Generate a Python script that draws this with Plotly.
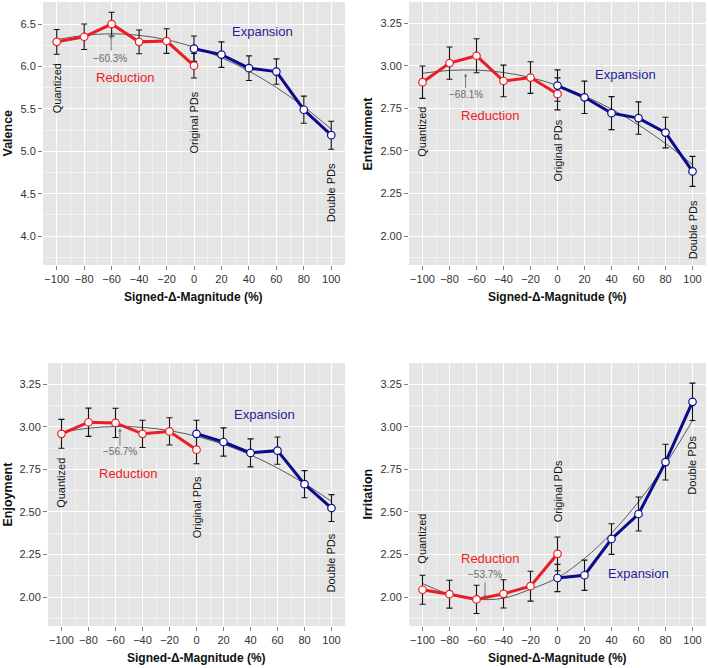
import plotly.graph_objects as go

W, H = 708, 668

# ---------------- data ----------------
x_red = [-100, -80, -60, -40, -20, 0]
x_blue = [0, 20, 40, 60, 80, 100]
x_fit = [-100, -80, -60, -40, -20, 0, 20, 40, 60, 80, 100]
x_ticks = [-100, -80, -60, -40, -20, 0, 20, 40, 60, 80, 100]

valence_red = [6.29, 6.35, 6.50, 6.29, 6.30, 6.01]
valence_red_err = [0.145, 0.15, 0.14, 0.14, 0.145, 0.145]
valence_blue = [6.21, 6.14, 5.98, 5.94, 5.49, 5.19]
valence_blue_err = [0.15, 0.15, 0.145, 0.15, 0.16, 0.165]
valence_fit = [6.315, 6.367, 6.385, 6.367, 6.315, 6.227, 6.104, 5.946, 5.753, 5.525, 5.261]

entrain_red = [2.904, 3.016, 3.059, 2.911, 2.931, 2.835]
entrain_red_err = [0.095, 0.095, 0.10, 0.093, 0.093, 0.094]
entrain_blue = [2.884, 2.815, 2.722, 2.693, 2.608, 2.38]
entrain_blue_err = [0.092, 0.095, 0.097, 0.095, 0.09, 0.088]
entrain_fit = [2.956, 2.973, 2.975, 2.961, 2.931, 2.885, 2.823, 2.746, 2.653, 2.544, 2.420]

enjoy_red = [2.959, 3.027, 3.023, 2.959, 2.973, 2.866]
enjoy_red_err = [0.085, 0.083, 0.086, 0.08, 0.08, 0.083]
enjoy_blue = [2.959, 2.911, 2.847, 2.860, 2.663, 2.523]
enjoy_blue_err = [0.08, 0.083, 0.082, 0.08, 0.08, 0.079]
enjoy_fit = [2.968, 2.992, 3.002, 2.997, 2.978, 2.944, 2.897, 2.835, 2.758, 2.667, 2.562]

irrit_red = [2.043, 2.017, 1.986, 2.019, 2.064, 2.254]
irrit_red_err = [0.085, 0.082, 0.083, 0.083, 0.088, 0.099]
irrit_blue = [2.112, 2.128, 2.341, 2.488, 2.793, 3.147]
irrit_blue_err = [0.08, 0.089, 0.09, 0.10, 0.105, 0.11]
irrit_fit = [2.080, 2.016, 1.987, 1.993, 2.046, 2.113, 2.227, 2.376, 2.560, 2.780, 3.036]

panel_titles = ["Valence", "Entrainment", "Enjoyment", "Irritation"]
x_title = "Signed-\u0394-Magnitude (%)"
peak_labels = ["\u221260.3%", "\u221268.1%", "\u221256.7%", "\u221253.7%"]

# ---------------- style ----------------
RED = "#EC1C24"
BLUE = "#0B0B8C"
BLUE_TXT = "#1E1E96"
FIT = "#5A5A5A"
FONT = "Liberation Sans, Arial, Helvetica, sans-serif"

# panel pixel boxes: (left, right, top, bottom)
boxes = [
    (43, 345, 2, 265),
    (409, 706, 2, 265),
    (48, 345, 363, 626),
    (409, 706, 363, 626),
]
yranges = [[3.66, 6.76], [1.83, 3.375], [1.83, 3.375], [1.83, 3.375]]
ydticks = [0.5, 0.25, 0.25, 0.25]
ytitle_x = [7, 367, 7, 367]

panels = [
    (valence_red, valence_red_err, valence_blue, valence_blue_err, valence_fit),
    (entrain_red, entrain_red_err, entrain_blue, entrain_blue_err, entrain_fit),
    (enjoy_red, enjoy_red_err, enjoy_blue, enjoy_blue_err, enjoy_fit),
    (irrit_red, irrit_red_err, irrit_blue, irrit_blue_err, irrit_fit),
]

# annotation positions (data coords)
ann = [
    ((-50, 5.87), (50, 6.41), 5.74, 5.34, 4.51, (-61, 6.09), (-60.3, 6.17), (-60.3, 6.37)),
    ((-50, 2.707), (50, 2.949), 2.61, 2.50, 2.037, (-67.8, 2.829), (-68.1, 2.862), (-68.1, 2.955)),
    ((-50.5, 2.725), (50, 3.07), 2.668, 2.525, 2.20, (-57, 2.855), (-56.7, 2.882), (-56.7, 2.99)),
    ((-50, 2.226), (60, 2.136), 2.34, 2.618, 2.775, (-53.7, 2.13), (-53.7, 2.095), (-53.7, 1.99)),
]

fig = go.Figure()
annotations = []

for i, (rv, re, bv, be, fv) in enumerate(panels):
    n = i + 1
    xa = "x" if n == 1 else f"x{n}"
    ya = "y" if n == 1 else f"y{n}"
    l, r, t, b = boxes[i]
    xd = [l / W, r / W]
    yd = [1 - b / H, 1 - t / H]
    axis_common = dict(
        showline=False, zeroline=False, ticks="outside", ticklen=4, tickwidth=1,
        tickcolor="#7F7F7F", gridcolor="#FFFFFF", gridwidth=1.1,
        tickfont=dict(family=FONT, size=11, color="#333333"),
    )
    fig.update_layout(**{
        ("xaxis" if n == 1 else f"xaxis{n}"): dict(
            domain=xd, anchor=ya, range=[-110, 110], tickvals=x_ticks,
            minor=dict(dtick=10, tick0=0, showgrid=True, gridcolor="#F2F2F2", gridwidth=0.6, ticks=""),
            **axis_common),
        ("yaxis" if n == 1 else f"yaxis{n}"): dict(
            domain=yd, anchor=xa, range=yranges[i], dtick=ydticks[i], tick0=0,
            tickformat=".1f" if i == 0 else ".2f",
            minor=dict(dtick=ydticks[i] / 2, tick0=0, showgrid=True, gridcolor="#F2F2F2", gridwidth=0.6, ticks=""),
            **axis_common),
    })

    # fit curve (underneath)
    fig.add_trace(go.Scatter(x=x_fit, y=fv, mode="lines", line=dict(color=FIT, width=1.0, shape="spline", smoothing=1.0),
                             xaxis=xa, yaxis=ya, showlegend=False, hoverinfo="skip"))
    # error bars
    for xs, ys, es in ((x_red, rv, re), (x_blue, bv, be)):
        fig.add_trace(go.Scatter(x=xs, y=ys, mode="markers", marker=dict(size=1, color="rgba(0,0,0,0)"),
                                 error_y=dict(type="data", array=es, visible=True, color="#111111", thickness=1.1, width=3),
                                 xaxis=xa, yaxis=ya, showlegend=False, hoverinfo="skip"))
    # lines + markers
    for xs, ys, col in ((x_red, rv, RED), (x_blue, bv, BLUE)):
        fig.add_trace(go.Scatter(x=xs, y=ys, mode="lines+markers",
                                 line=dict(color=col, width=3),
                                 marker=dict(size=7.5, color="white", line=dict(color=col, width=1.2)),
                                 xaxis=xa, yaxis=ya, showlegend=False))

    red_xy, blue_xy, qy, oy, dy, ptxt, tail, head = ann[i]
    annotations += [
        dict(x=red_xy[0], y=red_xy[1], xref=xa, yref=ya, text="Reduction", showarrow=False,
             font=dict(family=FONT, size=13, color=RED)),
        dict(x=blue_xy[0], y=blue_xy[1], xref=xa, yref=ya, text="Expansion", showarrow=False,
             font=dict(family=FONT, size=13, color=BLUE_TXT)),
        dict(x=-100, y=qy, xref=xa, yref=ya, text="Quantized", showarrow=False, textangle=-90,
             font=dict(family=FONT, size=11, color="#111111")),
        dict(x=0, y=oy, xref=xa, yref=ya, text="Original PDs", showarrow=False, textangle=-90,
             font=dict(family=FONT, size=11, color="#111111")),
        dict(x=100, y=dy, xref=xa, yref=ya, text="Double PDs", showarrow=False, textangle=-90,
             font=dict(family=FONT, size=11, color="#111111")),
        dict(x=ptxt[0], y=ptxt[1], xref=xa, yref=ya, text=peak_labels[i], showarrow=False,
             font=dict(family=FONT, size=10, color="#6A6A6A")),
        dict(x=head[0], y=head[1], xref=xa, yref=ya, ax=tail[0], ay=tail[1], axref=xa, ayref=ya,
             text="", showarrow=True, arrowhead=2, arrowsize=0.7, arrowwidth=0.9, arrowcolor="#6A6A6A",
             standoff=0, startstandoff=0),
        dict(x=ytitle_x[i] / W, y=1 - (t + b) / 2 / H, xref="paper", yref="paper", text=f"<b>{panel_titles[i]}</b>",
             xanchor="center", yanchor="middle",
             showarrow=False, textangle=-90, font=dict(family=FONT, size=12.5, color="#111111")),
        dict(x=(l + r) / 2 / W, y=1 - (b + 32) / H, xref="paper", yref="paper", text=f"<b>{x_title}</b>",
             xanchor="center", yanchor="middle",
             showarrow=False, font=dict(family=FONT, size=12, color="#111111")),
    ]

fig.update_layout(
    width=W, height=H, margin=dict(l=0, r=0, t=0, b=0),
    paper_bgcolor="white", plot_bgcolor="#E5E5E5",
    annotations=annotations, showlegend=False,
)

fig.write_html("out.html", config={"displayModeBar": False},
               post_script="document.body.style.margin='0px';document.body.style.padding='0px';")
